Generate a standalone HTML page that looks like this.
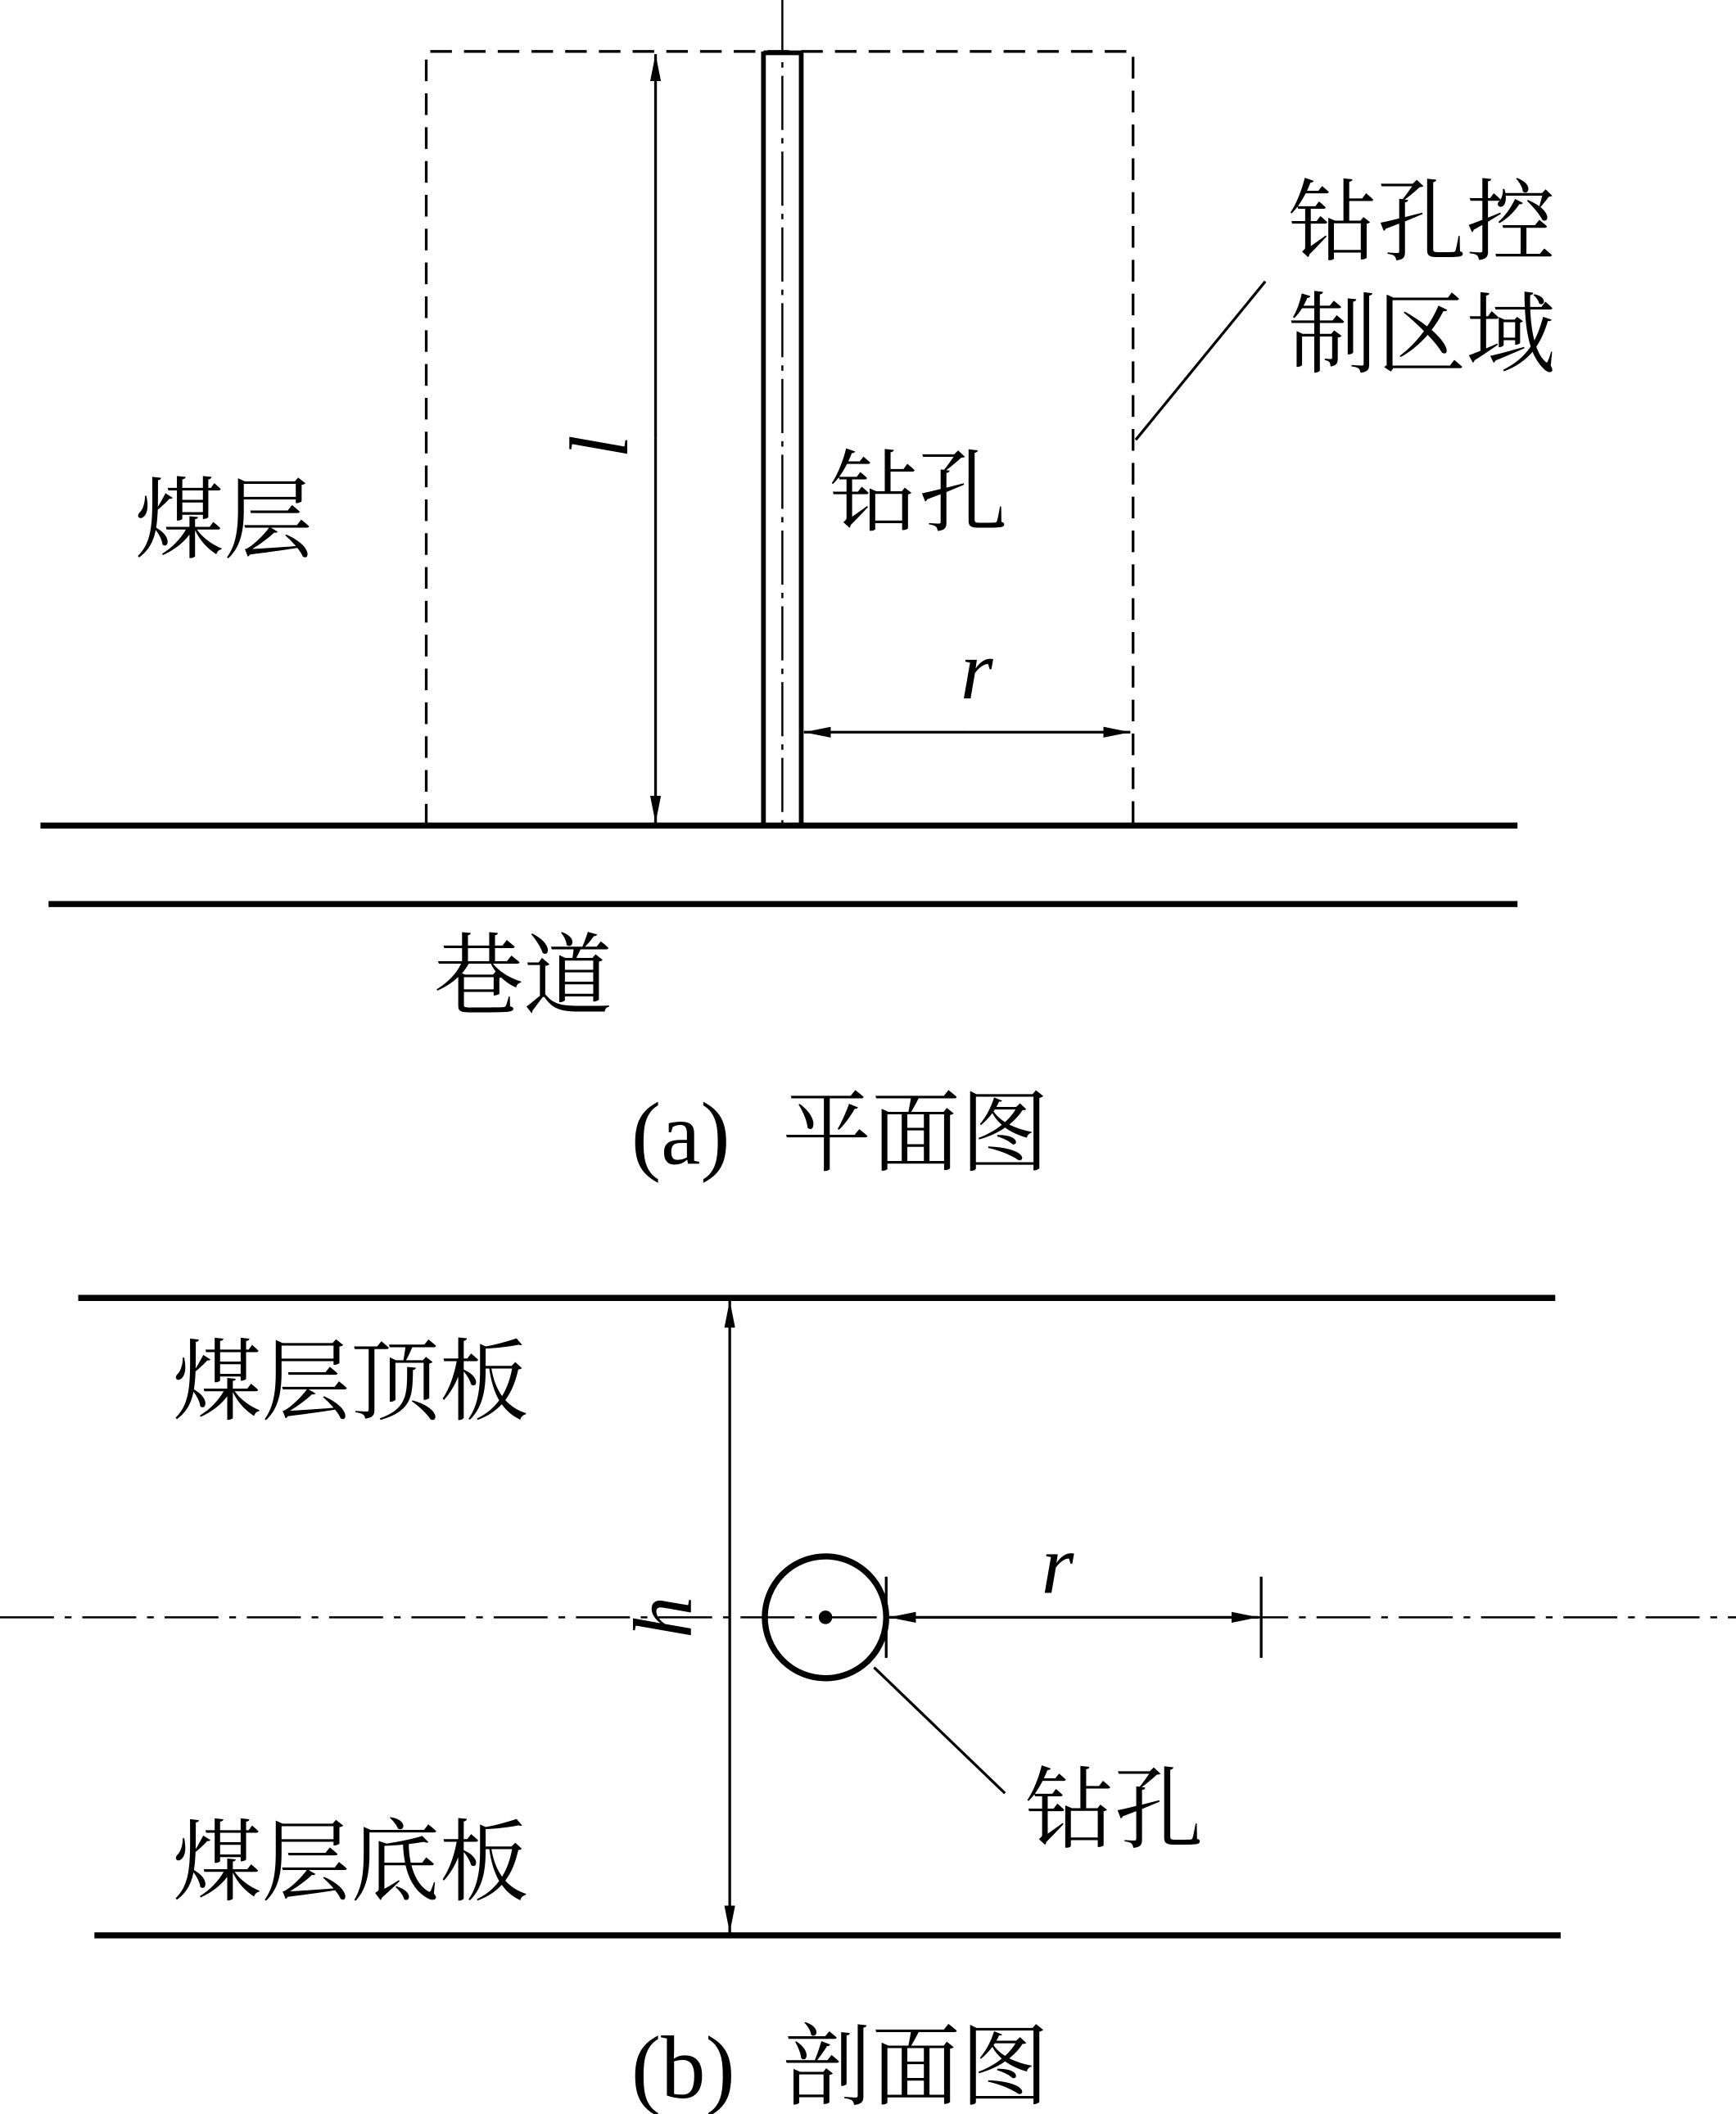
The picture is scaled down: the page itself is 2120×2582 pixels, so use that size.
<!DOCTYPE html>
<html><head><meta charset="utf-8"><style>
html,body{margin:0;padding:0;background:#fff;}
svg{display:block;}
text{font-family:"Liberation Serif","Noto Serif CJK SC","Noto Sans CJK SC",serif;fill:#000;}
</style></head><body>
<svg width="2120" height="2582" viewBox="0 0 1287 1562" preserveAspectRatio="none" xmlns="http://www.w3.org/2000/svg">
<defs>
<marker id="ar" viewBox="0 0 20 8" refX="20" refY="4" markerWidth="20" markerHeight="8" markerUnits="userSpaceOnUse" orient="auto">
<path d="M0,0 L20,4 L0,8 Z" fill="#000"/></marker>
</defs>
<g stroke="#000" fill="none">
<line x1="580" y1="0" x2="580" y2="610" stroke-width="1.5" stroke-dasharray="40,6,4,6"/>
<line x1="566" y1="38" x2="566" y2="610" stroke-width="3.5"/>
<line x1="594" y1="38" x2="594" y2="610" stroke-width="3.5"/>
<line x1="566" y1="39" x2="594" y2="39" stroke-width="3.5"/>
<path d="M316,610 L316,38 L840,38 L840,610" stroke-width="2" stroke-dasharray="16,9"/>
<line x1="30" y1="610" x2="1125" y2="610" stroke-width="4.5"/>
<line x1="36" y1="668" x2="1125" y2="668" stroke-width="4.5"/>
<line x1="486" y1="324" x2="486" y2="40" stroke-width="2" marker-end="url(#ar)"/>
<line x1="486" y1="324" x2="486" y2="608" stroke-width="2" marker-end="url(#ar)"/>
<line x1="717" y1="541" x2="596" y2="541" stroke-width="2" marker-end="url(#ar)"/>
<line x1="717" y1="541" x2="838" y2="541" stroke-width="2" marker-end="url(#ar)"/>
<line x1="842" y1="325" x2="938" y2="208" stroke-width="2"/>
<line x1="58" y1="959" x2="1153" y2="959" stroke-width="4.5"/>
<line x1="70" y1="1430" x2="1157" y2="1430" stroke-width="4.5"/>
<line x1="541" y1="1195" x2="541" y2="961" stroke-width="2" marker-end="url(#ar)"/>
<line x1="541" y1="1195" x2="541" y2="1428" stroke-width="2" marker-end="url(#ar)"/>
<line x1="0" y1="1195" x2="1287" y2="1195" stroke-width="1.5" stroke-dasharray="40,8,5,8"/>
<circle cx="612" cy="1195" r="45" stroke-width="4.5"/>
<line x1="657" y1="1165" x2="657" y2="1225" stroke-width="2"/>
<line x1="935" y1="1165" x2="935" y2="1225" stroke-width="2"/>
<line x1="796" y1="1195" x2="659" y2="1195" stroke-width="2" marker-end="url(#ar)"/>
<line x1="796" y1="1195" x2="933" y2="1195" stroke-width="2" marker-end="url(#ar)"/>
<line x1="648" y1="1232" x2="745" y2="1325" stroke-width="2"/>
</g>
<circle cx="612" cy="1195" r="5" fill="#000"/>
<g font-size="66">
<text x="955" y="187">钻孔控</text>
<text x="955" y="270">制区域</text>
<text x="100" y="407">煤层</text>
<text x="615" y="387">钻孔</text>
<text x="322" y="744">巷道</text>
<text x="468" y="860">(a)</text><text x="580" y="860">平面图</text>
<text x="128" y="1044">煤层顶板</text>
<text x="128" y="1399">煤层底板</text>
<text x="760" y="1360">钻孔</text>
<text x="468" y="1550">(b)</text><text x="580" y="1550">剖面图</text>
</g>
<g font-size="62" font-style="italic">
<text x="712" y="516">r</text>
<text x="772" y="1177">r</text>
<text transform="translate(465,330) rotate(-90)" text-anchor="middle">l</text>
<text transform="translate(512,1195) rotate(-90)" text-anchor="middle">h</text>
</g>
</svg>
</body></html>
